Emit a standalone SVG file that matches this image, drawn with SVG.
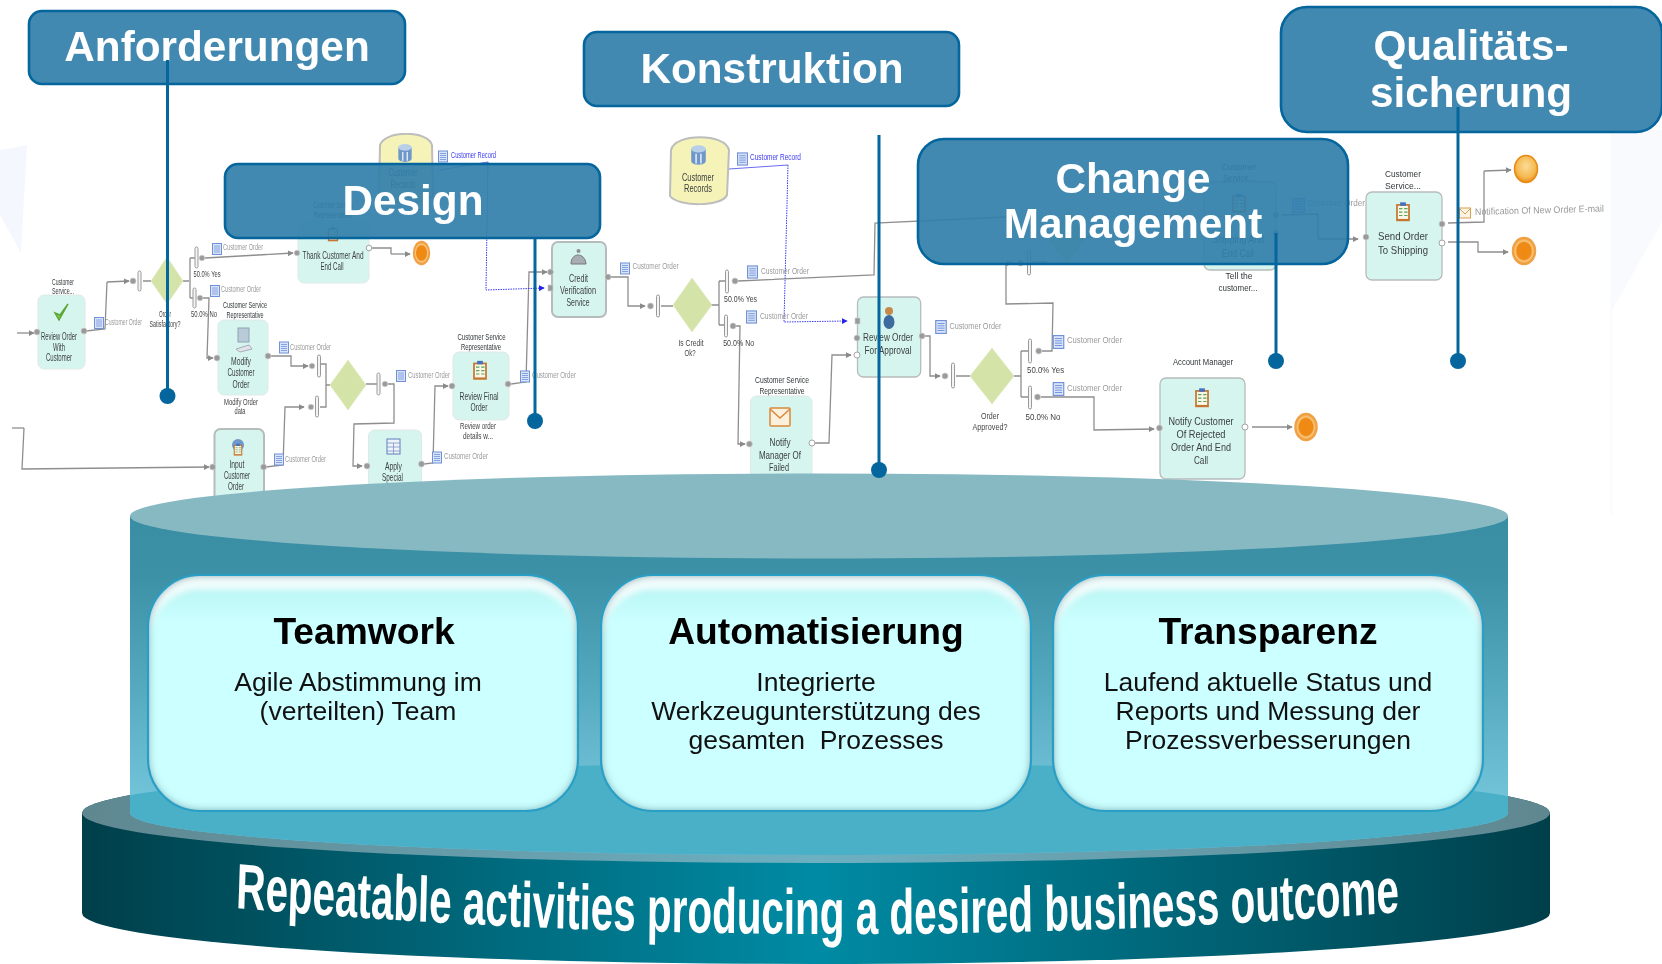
<svg xmlns="http://www.w3.org/2000/svg" width="1662" height="964" viewBox="0 0 1662 964">
<style>
text{font-family:"Liberation Sans",Arial,sans-serif}
.n{font-size:11px;fill:#3a3f3f;text-anchor:middle}
.l{font-size:9.5px;fill:#33383a;text-anchor:middle}
.d{font-size:9.5px;fill:#9a9a9a}
.b{font-size:9px;fill:#444;text-anchor:middle}
.task{fill:#d7f5ef;stroke:#dfe8e6;stroke-width:1}
.task2{fill:#d7f5ef;stroke:#b6bcbc;stroke-width:2}
.c{fill:none;stroke:#8e8e8e;stroke-width:1.3}
.ca{fill:none;stroke:#8e8e8e;stroke-width:1.3;marker-end:url(#ah)}
.blue{fill:none;stroke:#3b3bf0;stroke-width:1;stroke-dasharray:1.5 1}
.blue2{fill:none;stroke:#6a6af0;stroke-width:1}
.p{fill:#9a9a9a;stroke:#d0d0d0;stroke-width:.7}
.o{fill:#fff;stroke:#a5a5a5;stroke-width:1}
.bar{fill:#f4f4f4;stroke:#9a9a9a;stroke-width:1}
.gw{fill:#d4e4a8;stroke:#dbe8bd;stroke-width:.6}
.end{fill:url(#oe);stroke:#efa24a;stroke-width:1.5}
.hb{fill:#327fab;fill-opacity:.92;stroke:#04669d;stroke-width:2.6}
.ht{font-size:42.3px;font-weight:bold;fill:#fff;text-anchor:middle}
.pin{stroke:#04669d;stroke-width:3;fill:none}
.dot{fill:#04669d}
.card{fill:url(#cg);filter:url(#inner)}
.edge{fill:none;stroke:#2a9fc6;stroke-width:2.2}
.ct{font-size:37.2px;font-weight:bold;fill:#000;text-anchor:middle}
.cb{font-size:26.5px;fill:#111;text-anchor:middle}
</style>
<defs>
<marker id="ah" viewBox="0 0 8 8" refX="7" refY="4" markerWidth="6" markerHeight="6" orient="auto" markerUnits="userSpaceOnUse"><path d="M0 0L8 4L0 8z" fill="#8a8a8a"/></marker>
<marker id="ahb" viewBox="0 0 8 8" refX="7" refY="4" markerWidth="6" markerHeight="6" orient="auto" markerUnits="userSpaceOnUse"><path d="M0 0L8 4L0 8z" fill="#2222ee"/></marker>
<radialGradient id="oe" cx=".5" cy=".5" r=".5"><stop offset="0" stop-color="#f08a10"/><stop offset=".62" stop-color="#ee8a14"/><stop offset=".75" stop-color="#f9c67e"/><stop offset="1" stop-color="#ed8c1a"/></radialGradient>
<radialGradient id="oe2" cx=".5" cy=".4" r=".6"><stop offset="0" stop-color="#fbdc9a"/><stop offset=".7" stop-color="#f5b94e"/><stop offset="1" stop-color="#e98a14"/></radialGradient>
<linearGradient id="body" gradientUnits="userSpaceOnUse" x1="0" y1="516" x2="0" y2="813"><stop offset="0" stop-color="#3a8ea4"/><stop offset=".2" stop-color="#3d91a7"/><stop offset=".6" stop-color="#57abc1"/><stop offset="1" stop-color="#76c7dc"/></linearGradient>
<linearGradient id="disc" x1="0" y1="0" x2="1" y2="0"><stop offset="0" stop-color="#003f4a"/><stop offset=".5" stop-color="#008ba4"/><stop offset="1" stop-color="#003f4a"/></linearGradient>
<linearGradient id="rim" x1="0" y1="0" x2="1" y2="0"><stop offset="0" stop-color="#5f8790"/><stop offset=".5" stop-color="#6db0c2"/><stop offset="1" stop-color="#5f8790"/></linearGradient>
<filter id="inner" x="-5%" y="-5%" width="110%" height="110%">
<feOffset in="SourceAlpha" dy="14" result="o1"/><feGaussianBlur in="o1" stdDeviation="3" result="o2"/><feComposite in="SourceAlpha" in2="o2" operator="out" result="top"/><feFlood flood-color="#fff" flood-opacity=".8"/><feComposite in2="top" operator="in" result="hi"/>
<feGaussianBlur in="SourceAlpha" stdDeviation="4" result="b"/><feComposite in="SourceAlpha" in2="b" operator="out" result="e"/><feFlood flood-color="#2a7f8e" flood-opacity="1"/><feComposite in2="e" operator="in" result="s"/>
<feMerge><feMergeNode in="SourceGraphic"/><feMergeNode in="hi"/><feMergeNode in="s"/></feMerge></filter>
<linearGradient id="cg" x1="0" y1="0" x2="0" y2="1"><stop offset="0" stop-color="#b2f2f0"/><stop offset=".2" stop-color="#ccffff"/><stop offset="1" stop-color="#ccffff"/></linearGradient>
<filter id="soft" x="0" y="0" width="100%" height="100%"><feGaussianBlur stdDeviation=".4"/></filter>
<clipPath id="cyl"><path d="M130 516V813A689 42 0 0 0 1508 813V516z"/></clipPath>
<symbol id="doc" viewBox="0 0 10 12"><rect x=".5" y=".5" width="9" height="11" fill="#d9e4f8" stroke="#6f90d8"/><path d="M2 3h6M2 5h6M2 7h6M2 9h6" stroke="#6f90d8" stroke-width=".8"/></symbol>
<symbol id="clip" viewBox="0 0 14 18"><rect x="1" y="2.500" width="12" height="15" fill="#c5742f"/><rect x="2.500" y="4" width="9" height="11.500" fill="#fbf6e8"/><rect x="4.500" y="1" width="5" height="3" fill="#3f6fc0"/><path d="M3.500 6.500h3M8 6.500h3M3.500 9.500h3M8 9.500h3M3.500 12.500h3M8 12.500h3" stroke="#52a85a" stroke-width="1"/></symbol>
<symbol id="db" viewBox="0 0 14 18"><path d="M1 4v10c0 4 12 4 12 0V4" fill="#6f97c9"/><ellipse cx="7" cy="4" rx="6" ry="3" fill="#b7cfe9"/><path d="M5 8v8M9 8v8" stroke="#e8f0f8" stroke-width="1.200"/></symbol>
</defs>

<rect width="1662" height="964" fill="#fff"/>
<path d="M0 150L27 145L21 253L0 215z" fill="#f4f8fe"/>
<path d="M1611 312L1662 222V130H1611z" fill="#f8fafe"/>
<path d="M1611 0V515" stroke="#f7f8fa" stroke-width="1"/>

<g id="process" filter="url(#soft)">
<g id="connectors">
<path class="ca" d="M17 333H34"/>
<path class="c" d="M86 331L105 329L107 282"/><path class="ca" d="M107 282L129 281"/>
<path class="c" d="M143 281H151M183 281H189M190 258V298M190 258H196M190 298H194"/>
<path class="ca" d="M205 258L293 253"/>
<path class="ca" d="M203 298H209L207 358H213"/>
<path class="c" d="M372 248H391V254"/><path class="ca" d="M391 254H410"/>
<path class="ca" d="M271 356H291V366H308"/>
<path class="c" d="M321 364H326V407H320M326 385H330M366 384H377"/>
<path class="ca" d="M388 384H394V423L354 424L353 466H362"/>
<path class="c" d="M12 428H24"/>
<path class="ca" d="M24 428L22 469L209 467"/>
<path class="ca" d="M266 467L283 465L285 407H304"/>
<path class="ca" d="M424 464L433 463L435 386H448"/>
<path class="ca" d="M511 384L526 382L529 272H547"/>
<path class="ca" d="M610 277H628V306H645"/>
<path class="c" d="M661 306H673M711 305H719M719 281V325M719 281H725M719 325H724"/>
<path class="c" d="M738 281L874 275L875 223L1006 217"/>
<path class="ca" d="M736 326H740L738 444H745"/>
<path class="ca" d="M815 443H829L832 355H851"/>
<path class="ca" d="M925 336H930V376H940"/>
<path class="c" d="M956 376H970M1014 376H1021M1021 351V397M1021 351H1028M1021 397H1028"/>
<path class="c" d="M1042 351H1052L1053 303L1006 304V263"/><path class="ca" d="M1006 263H1012"/>
<path class="c" d="M1032 262H1047M1087 237H1100"/>
<path class="ca" d="M1041 397H1094V430L1154 429"/>
<path class="c" d="M1282 215L1318 214V239"/><path class="ca" d="M1318 239H1358"/>
<path class="c" d="M1448 223L1484 222V171"/><path class="ca" d="M1484 171L1511 170"/>
<path class="ca" d="M1448 242H1478V252H1508"/>
<path class="ca" d="M1252 427H1292"/>
<path class="blue2" d="M440 170L488 162"/>
<path class="blue" d="M488 162L486 290L544 288" marker-end="url(#ahb)"/>
<path class="blue2" d="M729 169L788 165"/>
<path class="blue" d="M788 165L784 322L847 321" marker-end="url(#ahb)"/>
</g>

<g id="customer-records-1">
<path d="M380 145C385 130 428 130 432 145L433 195C428 205 385 205 379 195z" fill="#f5f3b8" stroke="#bdbdbd" stroke-width="2"/>
<use href="#db" x="397" y="143" width="16" height="20"/>
<text class="n" x="403" y="176" textLength="29" lengthAdjust="spacingAndGlyphs">Customer</text>
<text class="n" x="403" y="188" textLength="25" lengthAdjust="spacingAndGlyphs">Records</text>
<use href="#doc" x="438" y="150" width="10" height="13"/>
<text x="451" y="158" font-size="9.500" fill="#3a3af0" textLength="45" lengthAdjust="spacingAndGlyphs">Customer Record</text>
</g>
<g id="review-order-with-customer">
<text class="l" x="63" y="285" textLength="22" lengthAdjust="spacingAndGlyphs">Customer</text>
<text class="l" x="63" y="294" textLength="22" lengthAdjust="spacingAndGlyphs">Service...</text>
<rect class="task" x="38" y="295" width="47" height="74" rx="6"/>
<path d="M55 313L59 320L68 304L60 315z" fill="#7cc84a" stroke="#5aa838" stroke-width="1.500"/>
<text class="n" x="59" y="340" textLength="36" lengthAdjust="spacingAndGlyphs">Review Order</text>
<text class="n" x="59" y="351" textLength="12" lengthAdjust="spacingAndGlyphs">With</text>
<text class="n" x="59" y="361" textLength="26" lengthAdjust="spacingAndGlyphs">Customer</text>
<circle class="p" cx="37" cy="332" r="3"/><circle class="p" cx="84" cy="331" r="3"/>
<use href="#doc" x="94" y="317" width="10" height="12"/>
<text class="d" x="105" y="325" textLength="37" lengthAdjust="spacingAndGlyphs">Customer Order</text>
</g>
<g id="gateway-satisfactory">
<circle class="p" cx="133" cy="281" r="3"/><rect class="bar" x="138" y="271" width="3" height="20" rx="1.500"/>
<path class="gw" d="M167 257L183 281L167 304L151 281z"/>
<text class="b" x="165" y="317" textLength="12" lengthAdjust="spacingAndGlyphs">Order</text>
<text class="b" x="165" y="327" textLength="31" lengthAdjust="spacingAndGlyphs">Satisfactory?</text>
<rect class="bar" x="195" y="247" width="3" height="21" rx="1.500"/><circle class="p" cx="202" cy="258" r="2.800"/>
<rect class="bar" x="193" y="288" width="3" height="20" rx="1.500"/><circle class="p" cx="200" cy="298" r="2.800"/>
<text class="b" x="207" y="277" textLength="27" lengthAdjust="spacingAndGlyphs">50.0% Yes</text>
<text class="b" x="204" y="317" textLength="26" lengthAdjust="spacingAndGlyphs">50.0% No</text>
<use href="#doc" x="212" y="243" width="10" height="12"/>
<text class="d" x="223" y="250" textLength="40" lengthAdjust="spacingAndGlyphs">Customer Order</text>
<use href="#doc" x="210" y="285" width="10" height="12"/>
<text class="d" x="221" y="292" textLength="40" lengthAdjust="spacingAndGlyphs">Customer Order</text>
</g>
<g id="thank-customer">
<text class="l" x="333" y="208" textLength="40" lengthAdjust="spacingAndGlyphs">Customer Service</text>
<text class="l" x="333" y="218" textLength="38" lengthAdjust="spacingAndGlyphs">Representative</text>
<rect class="task" x="298" y="220" width="71" height="63" rx="6"/>
<use href="#clip" x="327" y="226" width="12" height="16"/>
<text class="n" x="333" y="259" textLength="61" lengthAdjust="spacingAndGlyphs">Thank Customer And</text>
<text class="n" x="332" y="270" textLength="23" lengthAdjust="spacingAndGlyphs">End Call</text>
<circle class="p" cx="297" cy="253" r="2.800"/><circle class="o" cx="369" cy="248" r="2.800"/>
<ellipse class="end" cx="421.500" cy="253" rx="8" ry="11.500"/>
</g>
<g id="modify-customer-order">
<text class="l" x="245" y="308" textLength="44" lengthAdjust="spacingAndGlyphs">Customer Service</text>
<text class="l" x="245" y="318" textLength="37" lengthAdjust="spacingAndGlyphs">Representative</text>
<rect class="task" x="218" y="320" width="50" height="75" rx="6"/>
<rect x="238" y="328" width="11" height="14" fill="#b9cbd8" stroke="#8da3b3"/><path d="M236 349L249 345L252 349L240 352z" fill="#dfe5ea" stroke="#aab"/>
<text class="n" x="241" y="365" textLength="20" lengthAdjust="spacingAndGlyphs">Modify</text>
<text class="n" x="241" y="376" textLength="27" lengthAdjust="spacingAndGlyphs">Customer</text>
<text class="n" x="241" y="388" textLength="17" lengthAdjust="spacingAndGlyphs">Order</text>
<text class="b" x="241" y="405" textLength="34" lengthAdjust="spacingAndGlyphs">Modify Order</text>
<text class="b" x="240" y="414" textLength="11" lengthAdjust="spacingAndGlyphs">data</text>
<circle class="p" cx="217" cy="358" r="3"/><circle class="p" cx="268" cy="356" r="3"/>
<use href="#doc" x="279" y="341" width="10" height="13"/>
<text class="d" x="290" y="350" textLength="41" lengthAdjust="spacingAndGlyphs">Customer Order</text>
</g>
<g id="gateway-merge">
<circle class="p" cx="312" cy="366" r="2.800"/><rect class="bar" x="317.500" y="355" width="3" height="22" rx="1.500"/>
<circle class="p" cx="311" cy="407" r="2.800"/><rect class="bar" x="315.500" y="396" width="3" height="21" rx="1.500"/>
<path class="gw" d="M348 360L366 385L348 410L330 385z"/>
<rect class="bar" x="377" y="373" width="3" height="22" rx="1.500"/><circle class="p" cx="385" cy="384" r="2.800"/>
<use href="#doc" x="396" y="370" width="10" height="12"/>
<text class="d" x="408" y="378" textLength="42" lengthAdjust="spacingAndGlyphs">Customer Order</text>
</g>
<g id="review-final-order">
<text class="l" x="481.500" y="340" textLength="48" lengthAdjust="spacingAndGlyphs">Customer Service</text>
<text class="l" x="481" y="350" textLength="40" lengthAdjust="spacingAndGlyphs">Representative</text>
<rect class="task" x="453" y="352" width="56" height="68" rx="6"/>
<use href="#clip" x="472" y="358" width="16" height="24"/>
<text class="n" x="479" y="400" textLength="39" lengthAdjust="spacingAndGlyphs">Review Final</text>
<text class="n" x="479" y="411" textLength="17" lengthAdjust="spacingAndGlyphs">Order</text>
<text class="b" x="478" y="429" textLength="36" lengthAdjust="spacingAndGlyphs">Review order</text>
<text class="b" x="478" y="439" textLength="30" lengthAdjust="spacingAndGlyphs">details w...</text>
<circle class="p" cx="452" cy="386" r="3"/><circle class="p" cx="508" cy="384" r="3"/>
<use href="#doc" x="520" y="370" width="10" height="13"/>
<text class="d" x="532" y="378" textLength="44" lengthAdjust="spacingAndGlyphs">Customer Order</text>
</g>
<g id="input-customer-order">
<rect class="task2" x="214.500" y="429" width="49.500" height="80" rx="6"/>
<circle cx="238" cy="445" r="6" fill="#6f97c9"/><use href="#clip" x="233" y="443" width="10" height="13"/>
<text class="n" x="237" y="468" textLength="15" lengthAdjust="spacingAndGlyphs">Input</text>
<text class="n" x="237" y="479" textLength="26" lengthAdjust="spacingAndGlyphs">Customer</text>
<text class="n" x="236" y="490" textLength="16" lengthAdjust="spacingAndGlyphs">Order</text>
<circle class="p" cx="212.600" cy="467" r="3"/><circle class="p" cx="263.600" cy="467" r="3"/>
<use href="#doc" x="274" y="453" width="10" height="13"/>
<text class="d" x="285" y="462" textLength="41" lengthAdjust="spacingAndGlyphs">Customer Order</text>
</g>
<g id="apply-special">
<rect class="task" x="368.600" y="430" width="53" height="80" rx="6"/>
<rect x="387" y="439" width="13" height="15" fill="#eef3fa" stroke="#5f7fb8"/><path d="M387 443h13M387 447h13M387 451h13M393.500 443v11" stroke="#7a95c5" stroke-width=".8"/>
<text class="n" x="393.500" y="470" textLength="17" lengthAdjust="spacingAndGlyphs">Apply</text>
<text class="n" x="392.500" y="481" textLength="21" lengthAdjust="spacingAndGlyphs">Special</text>
<circle class="p" cx="367" cy="466" r="3"/><circle class="p" cx="421.500" cy="464" r="3"/>
<use href="#doc" x="432" y="451" width="10" height="13"/>
<text class="d" x="444" y="459" textLength="44" lengthAdjust="spacingAndGlyphs">Customer Order</text>
</g>
<g id="credit-verification">
<rect class="task2" x="552" y="242" width="54" height="75" rx="6"/>
<path d="M571 264C571 252 585 252 586 264z" fill="#a8adb5" stroke="#777"/><circle cx="578.500" cy="251" r="2" fill="#8a8f96"/>
<text class="n" x="578.500" y="282" textLength="19" lengthAdjust="spacingAndGlyphs">Credit</text>
<text class="n" x="578" y="294" textLength="36" lengthAdjust="spacingAndGlyphs">Verification</text>
<text class="n" x="578" y="306" textLength="23" lengthAdjust="spacingAndGlyphs">Service</text>
<circle class="p" cx="550.500" cy="272" r="3"/><rect class="p" x="548" y="285" width="5" height="6"/>
<circle class="p" cx="608" cy="277" r="3"/>
<use href="#doc" x="620" y="262" width="10" height="13"/>
<text class="d" x="632.600" y="269" textLength="46" lengthAdjust="spacingAndGlyphs">Customer Order</text>
</g>
<g id="customer-records-2">
<path d="M671 150C675 133 725 133 729 150L727 195C722 207 678 207 670 196z" fill="#f5f3b8" stroke="#bdbdbd" stroke-width="2"/>
<use href="#db" x="690" y="144" width="17" height="22"/>
<text class="n" x="698" y="181" textLength="32" lengthAdjust="spacingAndGlyphs">Customer</text>
<text class="n" x="698" y="192" textLength="28" lengthAdjust="spacingAndGlyphs">Records</text>
<use href="#doc" x="737" y="152" width="11" height="14"/>
<text x="750" y="160" font-size="9.500" fill="#3a3af0" textLength="51" lengthAdjust="spacingAndGlyphs">Customer Record</text>
</g>
<g id="gateway-credit">
<circle class="p" cx="650.500" cy="306" r="3"/><rect class="bar" x="656.500" y="295" width="3" height="22" rx="1.500"/>
<path class="gw" d="M692 278L712 305L692 332L673 305z"/>
<text class="b" x="691" y="346" textLength="25" lengthAdjust="spacingAndGlyphs">Is Credit</text>
<text class="b" x="690" y="356" textLength="11" lengthAdjust="spacingAndGlyphs">Ok?</text>
<rect class="bar" x="725.500" y="270" width="3" height="23" rx="1.500"/><circle class="p" cx="735" cy="281" r="3"/>
<rect class="bar" x="724.500" y="315" width="3" height="22" rx="1.500"/><circle class="p" cx="733" cy="326" r="3"/>
<text class="b" x="740.600" y="302" textLength="33" lengthAdjust="spacingAndGlyphs">50.0% Yes</text>
<text class="b" x="738.700" y="346" textLength="31" lengthAdjust="spacingAndGlyphs">50.0% No</text>
<use href="#doc" x="747" y="265" width="11" height="14"/>
<text class="d" x="761" y="274" textLength="48" lengthAdjust="spacingAndGlyphs">Customer Order</text>
<use href="#doc" x="746" y="310" width="11" height="14"/>
<text class="d" x="760" y="319" textLength="48" lengthAdjust="spacingAndGlyphs">Customer Order</text>
</g>
<g id="notify-manager">
<text class="l" x="782" y="383" textLength="54" lengthAdjust="spacingAndGlyphs">Customer Service</text>
<text class="l" x="782" y="394" textLength="45" lengthAdjust="spacingAndGlyphs">Representative</text>
<rect class="task" x="750.600" y="396" width="61.400" height="90" rx="6"/>
<rect x="770" y="408" width="20" height="18" rx="1" fill="#fbf0dc" stroke="#d9893a" stroke-width="1.500"/><path d="M770 409L780 418L790 409" fill="none" stroke="#d9893a" stroke-width="1.500"/>
<text class="n" x="780" y="446" textLength="21" lengthAdjust="spacingAndGlyphs">Notify</text>
<text class="n" x="780" y="459" textLength="42" lengthAdjust="spacingAndGlyphs">Manager Of</text>
<text class="n" x="779" y="471" textLength="20" lengthAdjust="spacingAndGlyphs">Failed</text>
<circle class="p" cx="749.400" cy="444" r="3"/><circle class="o" cx="812" cy="443" r="3"/>
</g>
<g id="review-order-approval">
<rect class="task2" x="857.500" y="297" width="63.200" height="80" rx="6" style="stroke-width:1.300"/>
<ellipse cx="889" cy="322" rx="5.500" ry="7" fill="#3e6a9f"/><circle cx="889" cy="311" r="4" fill="#c58a4a"/>
<text class="n" x="888" y="341" textLength="50" lengthAdjust="spacingAndGlyphs">Review Order</text>
<text class="n" x="888" y="354" textLength="47" lengthAdjust="spacingAndGlyphs">For Approval</text>
<rect class="p" x="855" y="318" width="5" height="6"/><circle class="p" cx="857" cy="338" r="3"/><circle class="o" cx="857" cy="355" r="3"/><circle class="p" cx="922" cy="336" r="3"/>
<use href="#doc" x="935" y="320" width="12" height="14"/>
<text class="d" x="949.400" y="329" textLength="52" lengthAdjust="spacingAndGlyphs">Customer Order</text>
</g>
<g id="gateway-approved">
<circle class="p" cx="945" cy="376" r="3"/><rect class="bar" x="951.500" y="363" width="3" height="25" rx="1.500"/>
<path class="gw" d="M992 348L1014 376L992 404L970 376z"/>
<text class="b" x="990" y="419" textLength="18" lengthAdjust="spacingAndGlyphs">Order</text>
<text class="b" x="990" y="430" textLength="35" lengthAdjust="spacingAndGlyphs">Approved?</text>
<rect class="bar" x="1028.500" y="339" width="3" height="24" rx="1.500"/><circle class="p" cx="1038.700" cy="351" r="3"/>
<rect class="bar" x="1028.500" y="386" width="3" height="23" rx="1.500"/><circle class="p" cx="1037.500" cy="397" r="3"/>
<text class="b" x="1045.600" y="373" textLength="37" lengthAdjust="spacingAndGlyphs">50.0% Yes</text>
<text class="b" x="1043" y="420" textLength="35" lengthAdjust="spacingAndGlyphs">50.0% No</text>
<use href="#doc" x="1052" y="335" width="13" height="14"/>
<text class="d" x="1067" y="343" textLength="55" lengthAdjust="spacingAndGlyphs">Customer Order</text>
<use href="#doc" x="1052" y="382" width="13" height="14"/>
<text class="d" x="1067" y="391" textLength="55" lengthAdjust="spacingAndGlyphs">Customer Order</text>
</g>
<g id="gateway-hidden">
<circle class="p" cx="1020.700" cy="263" r="3"/><rect class="bar" x="1027.500" y="250" width="3" height="25" rx="1.500"/>
<path class="gw" d="M1067 210L1087 237L1067 264L1047 237z"/>
</g>
<g id="notify-customer">
<text class="l" x="1203" y="365" textLength="60" lengthAdjust="spacingAndGlyphs">Account Manager</text>
<rect class="task2" x="1160" y="378" width="85" height="101" rx="6" style="stroke-width:1.300"/>
<use href="#clip" x="1194" y="386" width="16" height="23"/>
<text class="n" x="1201" y="425" textLength="65" lengthAdjust="spacingAndGlyphs">Notify Customer</text>
<text class="n" x="1201" y="438" textLength="49" lengthAdjust="spacingAndGlyphs">Of Rejected</text>
<text class="n" x="1201" y="451" textLength="60" lengthAdjust="spacingAndGlyphs">Order And End</text>
<text class="n" x="1201" y="464" textLength="14" lengthAdjust="spacingAndGlyphs">Call</text>
<circle class="p" cx="1159.400" cy="428" r="3"/><circle class="o" cx="1245" cy="427" r="3"/>
<ellipse class="end" cx="1306" cy="427" rx="11" ry="13.500"/>
</g>
<g id="tell-customer-shipping">
<text class="l" x="1239" y="170" textLength="34" lengthAdjust="spacingAndGlyphs">Customer</text>
<text class="l" x="1239" y="181" textLength="32" lengthAdjust="spacingAndGlyphs">Service...</text>
<rect class="task2" x="1204" y="182" width="72" height="88" rx="6" style="stroke-width:1.300"/>
<use href="#clip" x="1231" y="192" width="16" height="22"/>
<text class="n" x="1238" y="243" textLength="52" lengthAdjust="spacingAndGlyphs">Shipping And</text>
<text class="n" x="1238" y="257" textLength="32" lengthAdjust="spacingAndGlyphs">End Call</text>
<text class="l" x="1239" y="279" textLength="27" lengthAdjust="spacingAndGlyphs">Tell the</text>
<text class="l" x="1238" y="291" textLength="39" lengthAdjust="spacingAndGlyphs">customer...</text>
<circle class="p" cx="1276" cy="215" r="3"/><circle class="p" cx="1276" cy="233" r="3"/>
<use href="#doc" x="1292" y="198" width="13" height="15"/>
<text class="d" x="1307" y="206" textLength="58" lengthAdjust="spacingAndGlyphs">Customer Order</text>
</g>
<g id="send-order">
<text class="l" x="1403" y="177" textLength="36" lengthAdjust="spacingAndGlyphs">Customer</text>
<text class="l" x="1403" y="189" textLength="36" lengthAdjust="spacingAndGlyphs">Service...</text>
<rect class="task2" x="1366" y="192" width="76" height="88" rx="6" style="stroke-width:1.300"/>
<use href="#clip" x="1395" y="200" width="16" height="23"/>
<text class="n" x="1403" y="240" textLength="50" lengthAdjust="spacingAndGlyphs">Send Order</text>
<text class="n" x="1403" y="254" textLength="50" lengthAdjust="spacingAndGlyphs">To Shipping</text>
<circle class="p" cx="1366" cy="237" r="3"/><circle class="p" cx="1442" cy="224" r="3"/><circle class="o" cx="1442" cy="243" r="3"/>
<rect x="1459.500" y="208" width="11" height="10" fill="#fbf4e6" stroke="#d9a050"/><path d="M1459.500 208.500L1465 214L1470.500 208.500" fill="none" stroke="#d9a050"/>
<text class="d" x="1475" y="215" textLength="129" lengthAdjust="spacingAndGlyphs" transform="rotate(-1.500 1475 215)">Notification Of New Order E-mail</text>
<ellipse cx="1526" cy="169" rx="11.500" ry="13.500" fill="url(#oe2)" stroke="#e98a14" stroke-width="1.500"/>
<ellipse class="end" cx="1524" cy="251" rx="11.500" ry="13.500"/>
</g>
</g>

<g id="platform">
<path d="M82 813A734 50 0 0 1 1550 813V913A734 51 0 0 1 82 913z" fill="url(#disc)"/>
<ellipse cx="816" cy="813" rx="734" ry="50" fill="url(#rim)"/>
<path d="M130 516V813A689 42 0 0 0 1508 813V516z" fill="url(#body)"/>
<ellipse cx="816" cy="813" rx="734" ry="50" fill="#4ab0c8" clip-path="url(#cyl)"/>
<ellipse cx="819" cy="516" rx="689" ry="42.500" fill="#87b9c3"/>
<path id="arc" d="M373 908Q1291 958 2215 912" fill="none"/>
<text transform="scale(.632 1)" font-weight="bold" fill="#fff" style="font-size:64px"><textPath href="#arc">Repeatable activities producing a desired business outcome</textPath></text>
</g>

<g id="card-teamwork"><rect class="card" x="148" y="575" width="430" height="236" rx="52"/><rect class="edge" x="148" y="575" width="430" height="236" rx="52"/>
<text class="ct" x="364" y="644">Teamwork</text>
<text class="cb" x="358" y="691">Agile Abstimmung im</text>
<text class="cb" x="358" y="720">(verteilten) Team</text></g>
<g id="card-automatisierung"><rect class="card" x="601" y="575" width="430" height="236" rx="52"/><rect class="edge" x="601" y="575" width="430" height="236" rx="52"/>
<text class="ct" x="816" y="644">Automatisierung</text>
<text class="cb" x="816" y="691">Integrierte</text>
<text class="cb" x="816" y="720">Werkzeugunterstützung des</text>
<text class="cb" x="816" y="749" xml:space="preserve">gesamten  Prozesses</text></g>
<g id="card-transparenz"><rect class="card" x="1053" y="575" width="430" height="236" rx="52"/><rect class="edge" x="1053" y="575" width="430" height="236" rx="52"/>
<text class="ct" x="1268" y="644">Transparenz</text>
<text class="cb" x="1268" y="691">Laufend aktuelle Status und</text>
<text class="cb" x="1268" y="720">Reports und Messung der</text>
<text class="cb" x="1268" y="749">Prozessverbesserungen</text></g>

<g id="anforderungen"><rect class="hb" x="29" y="11" width="376" height="73" rx="13"/><text class="ht" x="217" y="61">Anforderungen</text><path class="pin" d="M167.500 60V396"/><circle class="dot" cx="167.500" cy="396" r="8"/></g>
<g id="konstruktion"><rect class="hb" x="584" y="32" width="375" height="74" rx="13"/><text class="ht" x="772" y="83">Konstruktion</text><path class="pin" d="M879 135V470"/><circle class="dot" cx="879" cy="470" r="8"/></g>
<g id="design"><rect class="hb" x="225" y="164" width="375" height="74" rx="13"/><text class="ht" x="413" y="215">Design</text><path class="pin" d="M535 238V421"/><circle class="dot" cx="535" cy="421" r="8"/></g>
<g id="change-management"><rect class="hb" x="918" y="139" width="430" height="125" rx="26"/><text class="ht" x="1133" y="193">Change</text><text class="ht" x="1133" y="238">Management</text><path class="pin" d="M1276 233V361"/><circle class="dot" cx="1276" cy="361" r="8"/></g>
<g id="qualitaetssicherung"><rect class="hb" x="1281" y="7" width="381" height="125" rx="26"/><text class="ht" x="1471" y="60">Qualitäts-</text><text class="ht" x="1471" y="107">sicherung</text><path class="pin" d="M1458 107V361"/><circle class="dot" cx="1458" cy="361" r="8"/></g>
</svg>
